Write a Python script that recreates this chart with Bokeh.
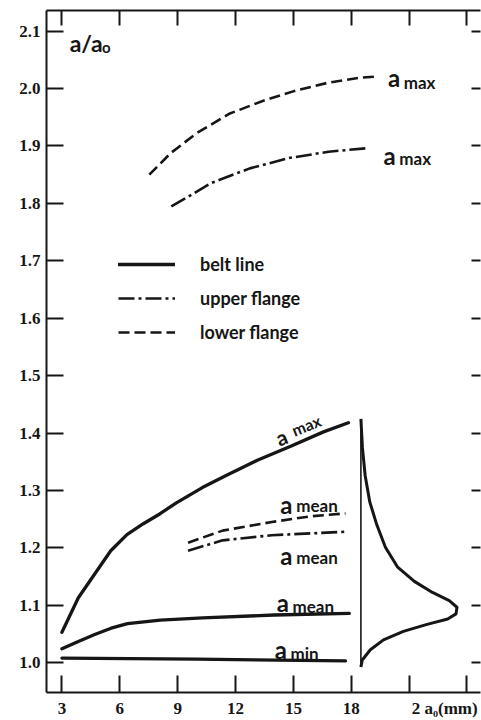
from bokeh.plotting import figure
from bokeh.models import Range1d, LinearAxis, FixedTicker, Label, Legend, LegendItem
from bokeh.embed import file_html
from bokeh.resources import INLINE

# ---------------- data ----------------
y_ticks = [1.0, 1.1, 1.2, 1.3, 1.4, 1.5, 1.6, 1.7, 1.8, 1.9, 2.0, 2.1]
y_tick_labels = ["1.0", "1.1", "1.2", "1.3", "1.4", "1.5", "1.6", "1.7", "1.8", "1.9", "2.0", "2.1"]
x_tick_marks = [3, 6, 9, 12, 15, 18, 21, 24]
x_label_pos = [3, 6, 9, 12, 15, 18, 22.84]
x_tick_labels = ["3", "6", "9", "12", "15", "18", "2 a\u2080(mm)"]

# belt line (solid)
belt_max_x = [3.0, 3.85, 4.69, 5.53, 6.37, 7.22, 8.07, 8.91, 10.28, 11.46, 13.16, 14.86, 16.56, 17.85]
belt_max_y = [1.053, 1.113, 1.154, 1.195, 1.223, 1.242, 1.259, 1.278, 1.305, 1.325, 1.353, 1.377, 1.402, 1.418]
belt_mean_x = [3.0, 3.85, 4.7, 5.55, 6.4, 8.1, 10.3, 14.0, 17.9]
belt_mean_y = [1.024, 1.037, 1.049, 1.060, 1.068, 1.074, 1.078, 1.083, 1.086]
belt_min_x = [3.0, 10.0, 17.7]
belt_min_y = [1.008, 1.006, 1.003]

# upper flange (dash-dot)
upper_max_x = [8.67, 9.72, 10.7, 12.74, 14.78, 16.82, 18.77]
upper_max_y = [1.795, 1.815, 1.835, 1.861, 1.879, 1.890, 1.896]
upper_mean_x = [9.54, 11.33, 13.88, 17.7]
upper_mean_y = [1.195, 1.213, 1.222, 1.228]

# lower flange (dashed)
lower_max_x = [7.53, 8.62, 9.97, 11.67, 13.37, 15.07, 16.77, 18.47, 19.33]
lower_max_y = [1.850, 1.887, 1.922, 1.956, 1.978, 1.996, 2.010, 2.019, 2.021]
lower_mean_x = [9.54, 11.33, 13.88, 15.92, 17.7]
lower_mean_y = [1.209, 1.230, 1.245, 1.255, 1.260]

# distribution sketch (frequency drawn sideways from a base line)
dist_base = 18.5
dist_y = [1.4245, 1.374, 1.326, 1.280, 1.2405, 1.201, 1.167, 1.1416, 1.1223, 1.108,
          1.0965, 1.085, 1.076, 1.0667, 1.0544, 1.0396, 1.0225, 1.0047, 0.9923]
dist_w = [0.0, 0.08, 0.22, 0.46, 0.82, 1.27, 1.89, 2.77, 3.71, 4.58,
          4.98, 4.93, 4.5, 3.43, 2.2, 1.17, 0.49, 0.07, 0.0]

# ---------------- figure ----------------
INK = "#161616"
p = figure(width=481, height=720, output_backend="svg", toolbar_location=None,
           x_range=Range1d(2.2, 24.7), y_range=Range1d(0.948, 2.136),
           x_axis_location=None, y_axis_location=None,
           min_border_left=46, min_border_right=1, min_border_top=10, min_border_bottom=26)
p.outline_line_color = None
p.xgrid.visible = False
p.ygrid.visible = False
p.background_fill_color = "white"
p.border_fill_color = "white"

TICK_FONT = "Liberation Sans Narrow"


def base_axis(ax, show_line):
    ax.major_tick_out = 0
    ax.minor_tick_out = 0
    ax.major_tick_line_width = 2
    ax.major_tick_line_color = INK
    ax.minor_tick_line_width = 2
    ax.minor_tick_line_color = INK
    if show_line:
        ax.axis_line_width = 2
        ax.axis_line_color = INK
    else:
        ax.axis_line_color = None


def hide_labels(ax):
    ax.major_label_text_color = None
    ax.major_label_text_font_size = "0px"
    ax.major_label_standoff = 0


# left: value axis with labels
left = LinearAxis(ticker=FixedTicker(ticks=y_ticks),
                  major_label_overrides={t: s for t, s in zip(y_ticks, y_tick_labels)})
base_axis(left, True)
left.major_tick_in = 17
left.minor_tick_line_color = None
left.major_label_text_font = TICK_FONT
left.major_label_text_font_style = "bold"
left.major_label_text_font_size = "17px"
left.major_label_text_color = INK
left.major_label_standoff = 6

# bottom: tick marks drawn as minor ticks, labels carried by (tickless) majors
bottom = LinearAxis(ticker=FixedTicker(ticks=x_label_pos, minor_ticks=x_tick_marks),
                    major_label_overrides={t: s for t, s in zip(x_label_pos, x_tick_labels)})
base_axis(bottom, True)
bottom.major_tick_in = 0
bottom.major_tick_line_color = None
bottom.minor_tick_in = 17
bottom.major_label_text_font = TICK_FONT
bottom.major_label_text_font_style = "bold"
bottom.major_label_text_font_size = "17px"
bottom.major_label_text_color = INK
bottom.major_label_standoff = 6

# top and right: frame with inward ticks only
top = LinearAxis(ticker=FixedTicker(ticks=x_tick_marks))
base_axis(top, True)
top.major_tick_in = 15
top.minor_tick_line_color = None
hide_labels(top)

right = LinearAxis(ticker=FixedTicker(ticks=y_ticks))
base_axis(right, False)
right.major_tick_in = 9
right.minor_tick_line_color = None
hide_labels(right)

p.add_layout(left, "left")
p.add_layout(bottom, "below")
p.add_layout(top, "above")
p.add_layout(right, "right")

SOLID_W = 3.3
DASH_W = 2.6
UPPER_DASH = "16 4 3 4"
LOWER_DASH = "11 5"

r_belt = p.line(belt_max_x, belt_max_y, line_color=INK, line_width=SOLID_W, line_cap="round")
p.line(belt_mean_x, belt_mean_y, line_color=INK, line_width=SOLID_W, line_cap="round")
p.line(belt_min_x, belt_min_y, line_color=INK, line_width=SOLID_W, line_cap="round")

r_upper = p.line(upper_max_x, upper_max_y, line_color=INK, line_width=DASH_W, line_dash=UPPER_DASH)
p.line(upper_mean_x, upper_mean_y, line_color=INK, line_width=DASH_W, line_dash=UPPER_DASH)

r_lower = p.line(lower_max_x, lower_max_y, line_color=INK, line_width=DASH_W, line_dash=LOWER_DASH)
p.line(lower_mean_x, lower_mean_y, line_color=INK, line_width=DASH_W, line_dash=LOWER_DASH)

# distribution sketch
p.line([dist_base + w for w in dist_w], dist_y, line_color=INK, line_width=3, line_join="round")
p.line([dist_base, dist_base], [dist_y[-1], dist_y[0]], line_color=INK, line_width=1.6)

# legend
legend = Legend(items=[LegendItem(label="belt line", renderers=[r_belt]),
                       LegendItem(label="upper flange", renderers=[r_upper]),
                       LegendItem(label="lower flange", renderers=[r_lower])],
                location=(72, 345), orientation="vertical",
                glyph_width=57, glyph_height=30, label_height=30, spacing=4,
                padding=0, margin=0, label_standoff=25,
                border_line_color=None, background_fill_alpha=0,
                label_text_font="Lato", label_text_font_size="18px",
                label_text_font_style="bold", label_text_color=INK)
p.add_layout(legend)

LABEL_FONT = "Lato"


def lab(x, y, text, size, angle=0.0):
    p.add_layout(Label(x=x, y=y, text=text, text_font=LABEL_FONT, text_font_style="bold",
                       text_font_size=size, text_color=INK, angle=angle,
                       text_baseline="alphabetic", text_align="left"))


# curve labels: large "a" plus small subscript
lab(19.9, 2.020, "a", "24px"); lab(20.72, 2.011, "max", "17px")
lab(19.67, 1.884, "a", "24px"); lab(20.49, 1.878, "max", "17px")
lab(14.12, 1.390, "a", "21px", 0.38); lab(14.95, 1.404, "max", "16px", 0.38)
lab(14.32, 1.276, "a", "24px"); lab(15.15, 1.274, "mean", "17px")
lab(14.32, 1.187, "a", "24px"); lab(15.15, 1.183, "mean", "17px")
lab(14.14, 1.104, "a", "24px"); lab(14.95, 1.097, "mean", "17px")
lab(14.03, 1.0225, "a", "24px"); lab(14.85, 1.0156, "min", "17px")

# y-axis title inside the frame
lab(3.4, 2.079, "a/a", "23px"); lab(5.08, 2.073, "o", "15px")

open("out.html", "w").write(file_html(p, INLINE))
